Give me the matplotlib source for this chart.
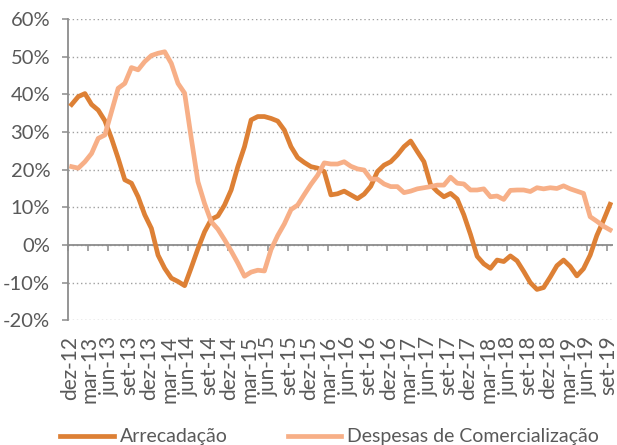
import matplotlib
matplotlib.use("Agg")
import matplotlib.pyplot as plt
import matplotlib.transforms as mtransforms
import numpy as np

# monthly series, dez-12 .. set-19 (% yoy)
arrecadacao = [37.3, 39.4, 40.2, 37.3, 35.8, 33.0, 28.3, 23.0, 17.3, 16.4,
               12.8, 8.0, 4.4, -2.7, -6.2, -8.8, -9.7, -10.8, -6.0, -1.0,
               3.5, 6.8, 7.7, 10.6, 14.6, 20.8, 26.1, 33.2, 34.1, 34.1,
               33.6, 32.9, 30.5, 26.1, 23.2, 21.9, 20.8, 20.4, 19.5, 13.3,
               13.6, 14.3, 13.3, 12.3, 13.5, 15.6, 19.5, 21.2, 22.1, 23.9,
               26.1, 27.6, 24.8, 22.1, 16.0, 14.2, 12.8, 13.7, 12.2, 8.0,
               2.8, -3.0, -5.0, -6.2, -4.0, -4.4, -2.9, -4.2, -7.0, -10.0,
               -11.8, -11.3, -8.5, -5.5, -4.0, -5.7, -8.2, -6.3, -2.7, 2.5,
               6.5, 10.8]
despesas = [20.8, 20.4, 22.1, 24.3, 28.3, 29.2, 35.4, 41.6, 42.9, 47.1,
            46.5, 48.7, 50.3, 50.9, 51.3, 48.2, 42.9, 40.3, 28.3, 16.8,
            11.0, 6.2, 4.2, 1.4, -1.6, -4.8, -8.3, -7.2, -6.7, -6.9,
            -1.2, 2.5, 5.6, 9.4, 10.6, 13.4, 16.1, 18.5, 21.8, 21.5,
            21.5, 22.1, 20.9, 20.2, 19.9, 17.5, 17.5, 16.2, 15.5, 15.5,
            13.9, 14.3, 14.9, 15.2, 15.5, 15.9, 15.9, 18.0, 16.4, 16.2,
            14.6, 14.6, 14.9, 12.8, 13.0, 12.1, 14.5, 14.6, 14.6, 14.2,
            15.2, 14.9, 15.2, 15.0, 15.7, 14.9, 14.3, 13.7, 7.5, 6.3,
            5.0, 4.0]
tick_labels = ["dez-12", "mar-13", "jun-13", "set-13", "dez-13", "mar-14",
               "jun-14", "set-14", "dez-14", "mar-15", "jun-15", "set-15",
               "dez-15", "mar-16", "jun-16", "set-16", "dez-16", "mar-17",
               "jun-17", "set-17", "dez-17", "mar-18", "jun-18", "set-18",
               "dez-18", "mar-19", "jun-19", "set-19"]
y_ticks = [-20, -10, 0, 10, 20, 30, 40, 50, 60]

plt.rcParams['font.family'] = ['Lato', 'DejaVu Sans']
txt = '#595959'
axc = '#8C8C8C'

x = np.arange(len(arrecadacao))

fig = plt.figure(figsize=(6.17, 4.45), dpi=100)
ax = fig.add_axes([0.1107, 0.2802, 0.8835, 0.6771])

ax.yaxis.grid(True, linestyle=(0, (1, 2)), color='#A0A0A0', linewidth=1.0)
ax.set_axisbelow(True)
ax.axhline(0, color=axc, linewidth=1.3, zorder=1.5)

ax.plot(x, arrecadacao, color='#DD8035', linewidth=3.4,
        solid_joinstyle='round', label='Arrecadação', zorder=3)
ax.plot(x, despesas, color='#F7AF87', linewidth=3.4,
        solid_joinstyle='round', label='Despesas de Comercialização', zorder=3)

ax.set_xlim(-0.5, len(x) - 0.5)
ax.set_ylim(-20, 60)
ax.set_yticks(y_ticks)
ax.set_yticklabels([f"{v}%" for v in y_ticks])
ax.set_xticks(x[::3])
ax.set_xticklabels(tick_labels, rotation=90)

ax.tick_params(axis='x', length=0, pad=11, labelsize=15, labelcolor=txt)
ax.tick_params(axis='y', length=4, width=1.1, color=axc, pad=9,
               labelsize=14.5, labelcolor=txt)

# nudge the rotated labels a little to the left
shift = mtransforms.ScaledTranslation(-2 / 100, 0, fig.dpi_scale_trans)
for lab in ax.get_xticklabels():
    lab.set_transform(lab.get_transform() + shift)

for s in ['top', 'right', 'bottom']:
    ax.spines[s].set_visible(False)
ax.spines['left'].set_color(axc)
ax.spines['left'].set_linewidth(1.3)

# tick marks along the zero line
sec = ax.secondary_xaxis(0.25)
sec.set_xticks(np.arange(-0.5, len(x) - 0.5, 3))
sec.set_xticklabels([])
sec.tick_params(length=4, width=1.1, color=axc)
sec.spines['bottom'].set_visible(False)

fig.legend(loc='center', bbox_to_anchor=(0.534, 0.018), ncol=2,
           frameon=False, fontsize=14, labelcolor=txt,
           handlelength=2.75, handletextpad=0.3, columnspacing=3.1)

fig.savefig("out.png", dpi=100)
